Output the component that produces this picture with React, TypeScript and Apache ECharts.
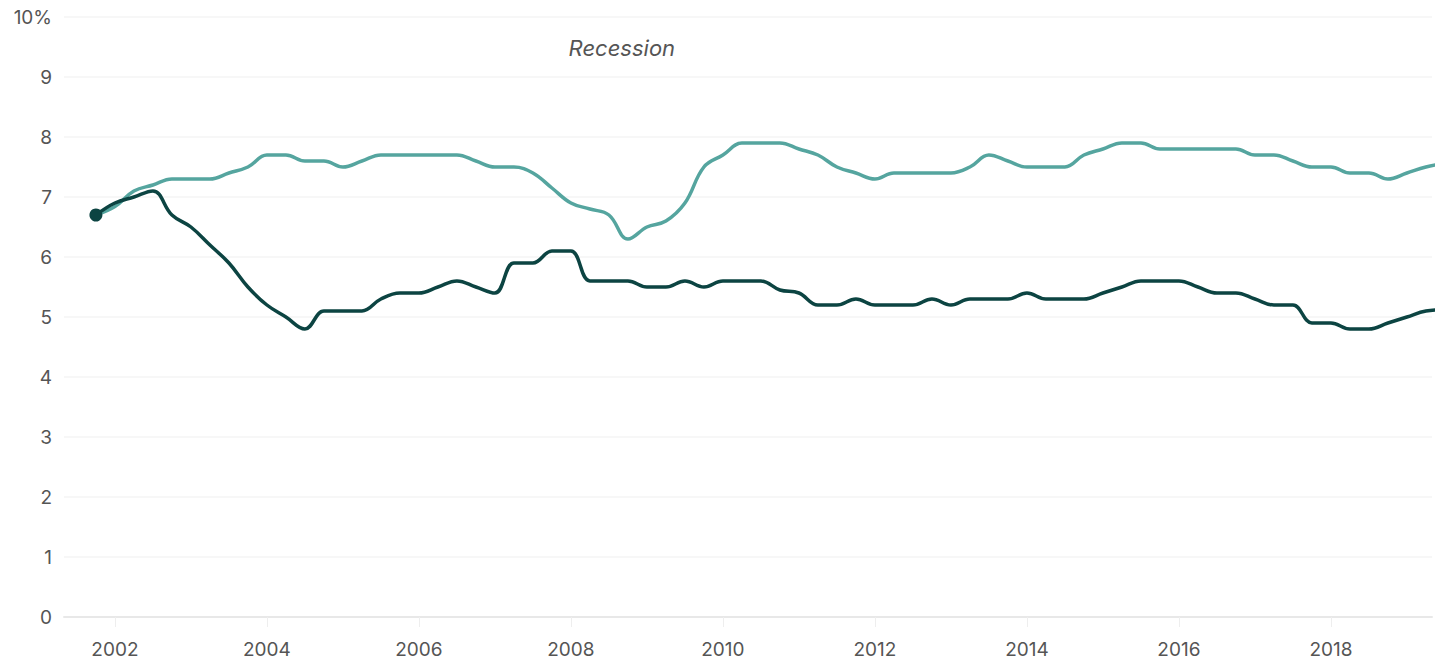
import React, { useEffect, useRef } from "react";
import * as echarts from "echarts";

// Quarterly observations, starting Q4 2001 (decimal year 2001.75), step one quarter
const firstQuarter = 2001.75;
const lightSeries = [
  6.7, 6.84, 7.1, 7.2, 7.3, 7.3, 7.3, 7.4, 7.5, 7.7, 7.7, 7.6, 7.6,
  7.5, 7.6, 7.7, 7.7, 7.7, 7.7, 7.7, 7.6, 7.5, 7.5, 7.4, 7.15,
  6.9, 6.8, 6.7, 6.3, 6.5, 6.6, 6.9, 7.5, 7.7, 7.9, 7.9, 7.9,
  7.8, 7.7, 7.5, 7.4, 7.3, 7.4, 7.4, 7.4, 7.4, 7.5, 7.7, 7.6,
  7.5, 7.5, 7.5, 7.7, 7.8, 7.9, 7.9, 7.8, 7.8, 7.8, 7.8, 7.8,
  7.7, 7.7, 7.6, 7.5, 7.5, 7.4, 7.4, 7.3, 7.4, 7.5, 7.56,
];
const darkSeries = [
  6.7, 6.9, 7.0, 7.1, 6.7, 6.5, 6.2, 5.9, 5.5, 5.2, 5.0, 4.8, 5.1,
  5.1, 5.1, 5.3, 5.4, 5.4, 5.5, 5.6, 5.5, 5.4, 5.9, 5.9, 6.1,
  6.1, 5.6, 5.6, 5.6, 5.5, 5.5, 5.6, 5.5, 5.6, 5.6, 5.6, 5.45,
  5.4, 5.2, 5.2, 5.3, 5.2, 5.2, 5.2, 5.3, 5.2, 5.3, 5.3, 5.3,
  5.4, 5.3, 5.3, 5.3, 5.4, 5.5, 5.6, 5.6, 5.6, 5.5, 5.4, 5.4,
  5.3, 5.2, 5.2, 4.9, 4.9, 4.8, 4.8, 4.9, 5.0, 5.1, 5.12,
];
const yearTicks = [2002, 2004, 2006, 2008, 2010, 2012, 2014, 2016, 2018];
const yTicks = [0, 1, 2, 3, 4, 5, 6, 7, 8, 9, 10];
const recession = { start: 2007.92, end: 2009.42, label: "Recession" };
const xRange = { min: 2001.33, max: 2019.33 };

const LIGHT = "#55a59f";
const DARK = "#0c4442";
const TEXT = "#555555";
const FONT = "Inter, 'Noto Sans', sans-serif";

export default function App() {
  const ref = useRef<HTMLDivElement>(null);

  useEffect(() => {
    if (!ref.current) return;
    const chart = echarts.init(ref.current, undefined, { renderer: "svg" });
    const xs = lightSeries.map((_, i) => firstQuarter + i * 0.25);
    const light = lightSeries.map((v, i) => [xs[i], v]);
    const dark = darkSeries.map((v, i) => [xs[i], v]);

    chart.setOption({
      animation: false,
      backgroundColor: "#ffffff",
      textStyle: { fontFamily: FONT },
      grid: { left: 64, right: 8, top: 17, bottom: 45, containLabel: false },
      xAxis: {
        type: "value",
        min: xRange.min,
        max: xRange.max,
        axisLine: { show: true, lineStyle: { color: "#e8e8e8", width: 2 } },
        axisTick: {
          show: true,
          customValues: yearTicks,
          length: 10,
          lineStyle: { color: "#eeeeee", width: 1 },
        },
        axisLabel: {
          customValues: yearTicks,
          formatter: (v: number) => String(v),
          color: TEXT,
          fontSize: 19,
          fontFamily: FONT,
          margin: 23,
        },
        splitLine: { show: false },
      },
      yAxis: {
        type: "value",
        min: 0,
        max: 10,
        interval: 1,
        axisLine: { show: false },
        axisTick: { show: false },
        axisLabel: {
          color: TEXT,
          fontSize: 19,
          fontFamily: FONT,
          margin: 12,
          formatter: (v: number) => (v === yTicks[yTicks.length - 1] ? `${v}%` : String(v)),
        },
        splitLine: { show: true, lineStyle: { color: "#f4f4f4", width: 1.5 } },
      },
      series: [
        {
          type: "line",
          data: light,
          smooth: 0.4,
          symbol: "none",
          clip: true,
          lineStyle: { color: LIGHT, width: 3.5 },
          z: 2,
          markArea: {
            silent: true,
            itemStyle: { color: "rgba(0,0,0,0)" },
            label: {
              show: true,
              position: "insideTop",
              distance: 20,
              fontStyle: "italic",
              fontSize: 22,
              color: TEXT,
              fontFamily: FONT,
            },
            data: [[{ name: recession.label, xAxis: recession.start }, { xAxis: recession.end }]],
          },
        },
        {
          type: "line",
          data: dark,
          smooth: 0.4,
          symbol: "none",
          clip: true,
          lineStyle: { color: DARK, width: 3.5 },
          z: 3,
        },
        {
          type: "scatter",
          data: [dark[0]],
          symbol: "circle",
          symbolSize: 13,
          itemStyle: { color: DARK, opacity: 1 },
          z: 4,
        },
      ],
    });

    return () => chart.dispose();
  }, []);

  return (
    <div
      ref={ref}
      style={{ position: "fixed", left: 0, top: 0, width: 1440, height: 662 }}
    />
  );
}
